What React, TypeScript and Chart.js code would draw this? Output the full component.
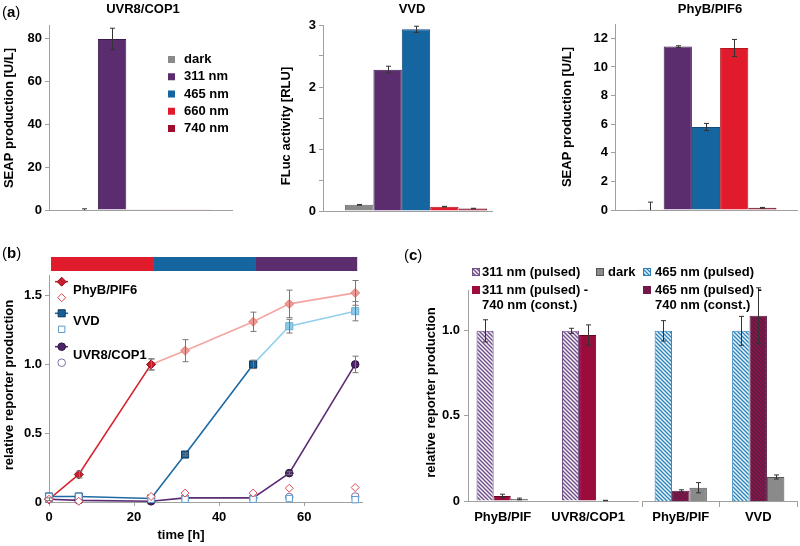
import React, { useEffect, useRef } from 'react';
import { Chart, registerables } from 'chart.js';
Chart.register(...registerables);

const FONT = "'Liberation Sans', Arial, Helvetica, sans-serif";
const AXIS = '#a0a0a0';
const TICKFONT = { family: FONT, size: 13, weight: 'bold' as const };

// ---------------- (a) ----------------
const aSeriesLabels = ['dark', '311 nm', '465 nm', '660 nm', '740 nm'];
const aFill = ['#8a8a8a', '#5b2d6f', '#1565a0', '#e01b2b', '#a00c2c'];
const aEdge = ['#6a6a6a', '#3d1a50', '#0e4a7a', '#b51420', '#6e0a1e'];

const uvrTitle = 'UVR8/COP1';
const uvrValues = [0.25, 80, 0.15, 0.12, 0.1];
const uvrErrors = [0.3, 5, 0, 0, 0];
const uvrTicks = [0, 20, 40, 60, 80];

const vvdTitle = 'VVD';
const vvdValues = [0.1, 2.28, 2.93, 0.07, 0.04];
const vvdErrors = [0.005, 0.055, 0.05, 0.005, 0.004];
const vvdTicks = [0, 0.5, 1, 1.5, 2, 2.5, 3];

const phyTitle = 'PhyB/PIF6';
const phyValues = [0.05, 11.42, 5.8, 11.32, 0.15];
const phyErrors = [0.5, 0.06, 0.25, 0.6, 0.03];
const phyTicks = [0, 2, 4, 6, 8, 10, 12];

// ---------------- (b) ----------------
const bTimes = [0, 7, 24, 32, 48, 56.5, 72];
const xTicksB = [0, 20, 40, 60];
const yTicksB = [0, 0.5, 1, 1.5];
const phaseTimes = [0, 24, 48, 72];
const phaseColors = ['#e01b2b', '#1565a0', '#5b2d6f'];

const phyOnTimes = [0, 7, 24];
const phyOnValues = [0.02, 0.2, 1.0];
const phyOnErr = [0.01, 0.025, 0.04];
const phyLateTimes = [24, 32, 48, 56.5, 72];
const phyLateValues = [1.0, 1.1, 1.31, 1.44, 1.52];
const phyLateErr = [0.04, 0.08, 0.07, 0.1, 0.09];
const phyDarkValues = [0.02, 0.005, 0.04, 0.065, 0.065, 0.1, 0.105];

const vvdOnTimes = [0, 7, 24, 32, 48];
const vvdOnValues = [0.04, 0.04, 0.025, 0.345, 1.0];
const vvdOnErr = [0, 0, 0, 0.01, 0.03];
const vvdLateTimes = [48, 56.5, 72];
const vvdLateValues = [1.0, 1.278, 1.387];
const vvdLateErr = [0.03, 0.05, 0.07];
const vvdDarkValues = [0.04, 0.04, 0.02, 0.02, 0.02, 0.025, 0.017];

const uvrOnValues = [0.02, 0.012, 0.005, 0.03, 0.03, 0.21, 1.0];
const uvrOnErr = [0, 0, 0, 0, 0, 0.01, 0.06];
const uvrDarkValues = [0.02, 0.03, 0.025, 0.03, 0.03, 0.036, 0.04];

// ---------------- (c) ----------------
const yTicksC = [0, 0.5, 1];
const cLeftCats = ['PhyB/PIF', 'UVR8/COP1'];
const c311Pulsed = [1.0, 1.0];
const c311PulsedErr = [0.065, 0.015];
const c311Pulsed740 = [0.03, 0.975];
const c311Pulsed740Err = [0.01, 0.06];
const cLeftDark = [0.012, 0.003];
const cLeftDarkErr = [0.005, 0.001];

const cRightCats = ['PhyB/PIF', 'VVD'];
const c465Pulsed = [1.0, 1.0];
const c465PulsedErr = [0.06, 0.085];
const c465Pulsed740 = [0.06, 1.088];
const c465Pulsed740Err = [0.006, 0.165];
const cRightDark = [0.078, 0.141];
const cRightDarkErr = [0.03, 0.012];

// ---------------- helpers ----------------
function onStep(v: number, step: number) {
  return Math.abs(v / step - Math.round(v / step)) < 1e-6;
}

const fixTicks = (vals: number[]) => (s: any) => {
  s.ticks = vals.map((v) => ({ value: v }));
};

function textPlugin(items: any[]) {
  return {
    id: 'texts',
    afterDraw(chart: any) {
      const ctx = chart.ctx as CanvasRenderingContext2D;
      ctx.save();
      ctx.fillStyle = '#000';
      ctx.textBaseline = 'middle';
      for (const it of items) {
        ctx.font = `${it.weight ?? 'bold'} ${it.size ?? 13}px ${FONT}`;
        ctx.textAlign = it.align ?? 'center';
        if (it.rot) {
          ctx.save();
          ctx.translate(it.x, it.y);
          ctx.rotate(-Math.PI / 2);
          ctx.fillText(it.text, 0, 0);
          ctx.restore();
        } else ctx.fillText(it.text, it.x, it.y);
      }
      ctx.restore();
    },
  };
}

function boxLegendPlugin(items: any[]) {
  return {
    id: 'boxLegend',
    afterDraw(chart: any) {
      const ctx = chart.ctx as CanvasRenderingContext2D;
      ctx.save();
      ctx.textBaseline = 'middle';
      ctx.textAlign = 'left';
      ctx.font = `bold 13px ${FONT}`;
      for (const it of items) {
        const b = it.box ?? 7;
        ctx.fillStyle = it.fill;
        ctx.fillRect(it.x, it.y - b / 2, b, b);
        if (it.stroke) {
          ctx.strokeStyle = it.stroke;
          ctx.lineWidth = 1;
          ctx.strokeRect(it.x + 0.5, it.y - b / 2 + 0.5, b - 1, b - 1);
        }
        ctx.fillStyle = '#000';
        const lines: string[] = it.lines;
        lines.forEach((ln, k) => ctx.fillText(ln, it.tx, it.y + k * (it.lineStep ?? 15)));
      }
      ctx.restore();
    },
  };
}

function errorBarPlugin(color: string, cap: number) {
  return {
    id: 'errbars',
    afterDatasetsDraw(chart: any) {
      const ctx = chart.ctx as CanvasRenderingContext2D;
      chart.data.datasets.forEach((ds: any, di: number) => {
        const errs = ds.errors;
        if (!errs) return;
        const meta = chart.getDatasetMeta(di);
        const ys = chart.scales[meta.yAxisID];
        ctx.save();
        ctx.strokeStyle = color;
        ctx.lineWidth = 1;
        meta.data.forEach((el: any, i: number) => {
          const e = errs[i];
          if (!e) return;
          const raw = ds.data[i];
          const v = typeof raw === 'number' ? raw : raw && raw.y;
          if (v == null) return;
          const x = Math.round(el.x) + 0.5;
          const y1 = ys.getPixelForValue(v + e);
          const lowClipped = v - e < ys.min;
          const y2 = ys.getPixelForValue(Math.max(v - e, ys.min));
          ctx.beginPath();
          ctx.moveTo(x, y1);
          ctx.lineTo(x, y2);
          ctx.moveTo(x - cap, y1);
          ctx.lineTo(x + cap, y1);
          if (!lowClipped) {
            ctx.moveTo(x - cap, y2);
            ctx.lineTo(x + cap, y2);
          }
          ctx.stroke();
        });
        ctx.restore();
      });
    },
  };
}

function makeHatch(bg: string, fg: string) {
  const size = 4;
  const c = document.createElement('canvas');
  c.width = size;
  c.height = size;
  const g = c.getContext('2d')!;
  g.fillStyle = bg;
  g.fillRect(0, 0, size, size);
  g.strokeStyle = fg;
  g.lineWidth = 1.3;
  g.beginPath();
  g.moveTo(-1, -1);
  g.lineTo(size + 1, size + 1);
  g.moveTo(-1, size - 1);
  g.lineTo(1, size + 1);
  g.moveTo(size - 1, -1);
  g.lineTo(size + 1, 1);
  g.stroke();
  return g.createPattern(c, 'repeat')!;
}

function drawMarker(ctx: CanvasRenderingContext2D, style: string, x: number, y: number, r: number, fill: string, stroke: string) {
  ctx.beginPath();
  if (style === 'rectRot') {
    ctx.moveTo(x, y - r);
    ctx.lineTo(x + r, y);
    ctx.lineTo(x, y + r);
    ctx.lineTo(x - r, y);
    ctx.closePath();
  } else if (style === 'rect') {
    const s = r * Math.SQRT1_2;
    ctx.rect(x - s, y - s, 2 * s, 2 * s);
  } else ctx.arc(x, y, r, 0, Math.PI * 2);
  ctx.fillStyle = fill;
  ctx.fill();
  ctx.strokeStyle = stroke;
  ctx.lineWidth = 1;
  ctx.stroke();
}

function yGrid() {
  return { display: true, drawOnChartArea: false, drawTicks: true, tickLength: 4, color: AXIS };
}

function panelA(values: number[], errors: number[], cfg: any) {
  const plugins: any[] = [errorBarPlugin('#333', 2.5), textPlugin(cfg.texts)];
  if (cfg.legend) plugins.push(boxLegendPlugin(cfg.legend));
  if (cfg.axisLen) {
    plugins.push({
      id: 'baseLine',
      afterDraw(chart: any) {
        const { left, bottom } = chart.chartArea;
        const ctx = chart.ctx;
        ctx.save();
        ctx.strokeStyle = AXIS;
        ctx.lineWidth = 1;
        ctx.beginPath();
        ctx.moveTo(left, Math.round(bottom) + 0.5);
        ctx.lineTo(left + cfg.axisLen, Math.round(bottom) + 0.5);
        ctx.stroke();
        ctx.restore();
      },
    });
  }
  return {
    type: 'bar',
    data: {
      labels: [''],
      datasets: aSeriesLabels.map((lab, i) => ({
        label: lab,
        data: [values[i]],
        errors: [errors[i]],
        backgroundColor: aFill[i],
        borderColor: aEdge[i],
        borderWidth: 1,
        categoryPercentage: cfg.catPct,
        barPercentage: 1,
      })),
    },
    options: {
      animation: false,
      responsive: false,
      layout: { padding: { top: cfg.padTop, right: cfg.padRight, left: 0, bottom: 0 } },
      plugins: { legend: { display: false }, tooltip: { enabled: false } },
      scales: {
        x: {
          ticks: { display: false },
          grid: { display: false },
          border: { display: !cfg.axisLen, color: AXIS },
          afterFit: (s: any) => {
            s.height = cfg.xHeight;
          },
        },
        y: {
          min: 0,
          max: cfg.max,
          ticks: {
            color: '#000',
            font: TICKFONT,
            padding: 3,
            callback: (v: any) => (onStep(v, cfg.labelStep) ? String(v) : ''),
          },
          grid: yGrid(),
          border: { color: AXIS },
          afterBuildTicks: fixTicks(cfg.ticks),
          afterFit: (s: any) => {
            s.width = cfg.yWidth;
          },
        },
      },
    },
    plugins,
  };
}

const pts = (ts: number[], vs: number[]) => ts.map((t, i) => ({ x: t, y: vs[i] }));

export default function App() {
  const a1 = useRef<HTMLCanvasElement>(null);
  const a2 = useRef<HTMLCanvasElement>(null);
  const a3 = useRef<HTMLCanvasElement>(null);
  const b = useRef<HTMLCanvasElement>(null);
  const c1 = useRef<HTMLCanvasElement>(null);
  const c2 = useRef<HTMLCanvasElement>(null);

  useEffect(() => {
    const charts: Chart[] = [];

    // (a) UVR8/COP1
    charts.push(
      new Chart(
        a1.current!,
        panelA(uvrValues, uvrErrors, {
          max: 86.5,
          ticks: uvrTicks,
          labelStep: 20,
          yWidth: 49,
          xHeight: 20,
          padTop: 25,
          padRight: 18,
          catPct: 0.776,
          texts: [
            { text: uvrTitle, x: 143, y: 9.5 },
            { text: 'SEAP production [U/L]', x: 9, y: 118, rot: true },
          ],
          legend: aSeriesLabels.map((lab, i) => ({
            lines: [lab],
            fill: aFill[i],
            x: 168,
            tx: 184,
            y: 59.5 + i * 17.25,
          })),
        }) as any
      )
    );

    // (a) VVD
    charts.push(
      new Chart(
        a2.current!,
        panelA(vvdValues, vvdErrors, {
          max: 3,
          ticks: vvdTicks,
          labelStep: 1,
          yWidth: 47,
          xHeight: 19,
          padTop: 25,
          padRight: 3,
          catPct: 0.763,
          axisLen: 170,
          texts: [
            { text: vvdTitle, x: 136, y: 9.5 },
            { text: 'FLuc activity [RLU]', x: 10, y: 126, rot: true },
          ],
        }) as any
      )
    );

    // (a) PhyB/PIF6
    charts.push(
      new Chart(
        a3.current!,
        panelA(phyValues, phyErrors, {
          max: 13,
          ticks: phyTicks,
          labelStep: 2,
          yWidth: 57,
          xHeight: 20,
          padTop: 24,
          padRight: 3,
          catPct: 0.775,
          texts: [
            { text: phyTitle, x: 152, y: 9.5 },
            { text: 'SEAP production [U/L]', x: 9, y: 117, rot: true },
          ],
        }) as any
      )
    );

    // (b)
    const lineDs = (label: string, data: any[], style: string, r: number, line: string, fill: string, edge: string, errors?: number[]) => ({
      label,
      data,
      errors,
      borderColor: line,
      borderWidth: 1.6,
      pointStyle: style,
      pointRadius: r,
      pointBackgroundColor: fill,
      pointBorderColor: edge,
      pointBorderWidth: 1,
      tension: 0,
      clip: false,
    });
    const openDs = (label: string, data: any[], style: string, r: number, edge: string) => ({
      label,
      data,
      showLine: false,
      pointStyle: style,
      pointRadius: r,
      pointBackgroundColor: '#ffffff',
      pointBorderColor: edge,
      pointBorderWidth: 1,
      clip: false,
    });

    const legendB = {
      id: 'legendB',
      afterDraw(chart: any) {
        const ctx = chart.ctx as CanvasRenderingContext2D;
        const rows = [
          { text: 'PhyB/PIF6', style: 'rectRot', r: 4.5, ro: 4, line: '#d8212f', fill: '#c81f2e', edge: '#8e1420', open: '#e5484f', y: 41.7 },
          { text: 'VVD', style: 'rect', r: 5, ro: 4.5, line: '#1e6aa3', fill: '#1b5e96', edge: '#0d3a60', open: '#5a9bd0', y: 73.3 },
          { text: 'UVR8/COP1', style: 'circle', r: 3.8, ro: 3.8, line: '#5a2d72', fill: '#4a2466', edge: '#2e1240', open: '#8070a8', y: 106.7 },
        ];
        ctx.save();
        for (const rw of rows) {
          ctx.strokeStyle = rw.line;
          ctx.lineWidth = 1.6;
          ctx.beginPath();
          ctx.moveTo(55, rw.y);
          ctx.lineTo(68, rw.y);
          ctx.stroke();
          drawMarker(ctx, rw.style, 61.7, rw.y, rw.r, rw.fill, rw.edge);
          drawMarker(ctx, rw.style, 61.7, rw.y + 16, rw.ro, '#ffffff', rw.open);
          ctx.fillStyle = '#000';
          ctx.font = `bold 13px ${FONT}`;
          ctx.textAlign = 'left';
          ctx.textBaseline = 'middle';
          ctx.fillText(rw.text, 73, rw.y + 8.5);
        }
        ctx.restore();
      },
    };

    const stripB = {
      id: 'stripB',
      afterDraw(chart: any) {
        const ctx = chart.ctx as CanvasRenderingContext2D;
        const xs = chart.scales.x;
        const top = chart.chartArea.top;
        ctx.save();
        for (let i = 0; i < phaseColors.length; i++) {
          const x0 = xs.getPixelForValue(phaseTimes[i]);
          const x1 = xs.getPixelForValue(phaseTimes[i + 1]);
          ctx.fillStyle = phaseColors[i];
          ctx.fillRect(x0 + 2, top - 18, x1 - x0, 14);
        }
        ctx.restore();
      },
    };

    charts.push(
      new Chart(b.current!, {
        type: 'line',
        data: {
          datasets: [
            openDs('PhyB/PIF6 dark', pts(bTimes, phyDarkValues), 'rectRot', 4, '#e5484f'),
            openDs('VVD dark', pts(bTimes, vvdDarkValues), 'rect', 4.5, '#5a9bd0'),
            openDs('UVR8/COP1 dark', pts(bTimes, uvrDarkValues), 'circle', 3.8, '#8070a8'),
            lineDs('PhyB/PIF6', pts(phyOnTimes, phyOnValues), 'rectRot', 4.5, '#d8212f', '#c81f2e', '#8e1420', phyOnErr),
            lineDs('PhyB/PIF6 late', pts(phyLateTimes, phyLateValues), 'rectRot', 4.5, '#f4a5a0', '#ee9a94', '#e0857f', phyLateErr),
            lineDs('VVD', pts(vvdOnTimes, vvdOnValues), 'rect', 5, '#1e6aa3', '#1b5e96', '#0d3a60', vvdOnErr),
            lineDs('VVD late', pts(vvdLateTimes, vvdLateValues), 'rect', 5, '#92d0ec', '#8ecbe9', '#6db0d4', vvdLateErr),
            lineDs('UVR8/COP1', pts(bTimes, uvrOnValues), 'circle', 3.8, '#5a2d72', '#4a2466', '#2e1240', uvrOnErr),
          ] as any,
        },
        options: {
          animation: false,
          responsive: false,
          layout: { padding: { top: 35, right: 38, left: 0, bottom: 0 } },
          plugins: { legend: { display: false }, tooltip: { enabled: false } },
          scales: {
            x: {
              type: 'linear',
              min: 0,
              max: 73.6,
              ticks: { color: '#000', font: TICKFONT, padding: 4 },
              grid: { display: true, drawOnChartArea: false, drawTicks: true, tickLength: 4, color: AXIS },
              border: { color: AXIS },
              afterBuildTicks: fixTicks(xTicksB),
              afterFit: (s: any) => {
                s.height = 44;
              },
            },
            y: {
              min: 0,
              max: 1.65,
              ticks: {
                color: '#000',
                font: TICKFONT,
                padding: 3,
                callback: (v: any) => (v === 0 ? '0' : Number(v).toFixed(1)),
              },
              grid: yGrid(),
              border: { color: AXIS },
              afterBuildTicks: fixTicks(yTicksB),
              afterFit: (s: any) => {
                s.width = 49;
              },
            },
          },
        } as any,
        plugins: [
          errorBarPlugin('#777', 3),
          legendB,
          stripB,
          textPlugin([
            { text: 'time [h]', x: 181, y: 295 },
            { text: 'relative reporter production', x: 9, y: 145, rot: true },
          ]),
        ] as any,
      })
    );

    // (c)
    const purpleHatch = makeHatch('#f4eff6', '#6d4c87');
    const blueHatch = makeHatch('#e9f5fb', '#2c82b9');
    const maroonHatch = makeHatch('#8c1646', '#5a1c48');
    const maroon = '#9b0b3b';
    const grayC = '#8a8a8a';

    const cYTicks = {
      color: '#000',
      font: TICKFONT,
      padding: 4,
      callback: (v: any) => (v === 0 ? '0' : Number(v).toFixed(1)),
    };

    charts.push(
      new Chart(c1.current!, {
        type: 'bar',
        data: {
          labels: cLeftCats,
          datasets: [
            { label: '311 nm (pulsed)', data: c311Pulsed, errors: c311PulsedErr, backgroundColor: purpleHatch, borderColor: '#6d4c87', borderWidth: 1 },
            { label: '311 nm (pulsed) - 740 nm (const.)', data: c311Pulsed740, errors: c311Pulsed740Err, backgroundColor: maroon, borderColor: '#6a0526', borderWidth: 1 },
            { label: 'dark', data: cLeftDark, errors: cLeftDarkErr, backgroundColor: grayC, borderColor: '#555', borderWidth: 1 },
            { label: '', data: [null, null] },
          ] as any,
        },
        options: {
          animation: false,
          responsive: false,
          layout: { padding: { top: 50, right: 0, left: 0, bottom: 0 } },
          plugins: { legend: { display: false }, tooltip: { enabled: false } },
          datasets: { bar: { categoryPercentage: 0.8, barPercentage: 1 } },
          scales: {
            x: {
              ticks: { color: '#000', font: TICKFONT, padding: 9, labelOffset: -8 },
              grid: { display: false, drawTicks: false },
              border: { color: AXIS },
              afterFit: (s: any) => {
                s.height = 45;
              },
            },
            y: {
              min: 0,
              max: 1.24,
              ticks: cYTicks,
              grid: yGrid(),
              border: { color: AXIS },
              afterBuildTicks: fixTicks(yTicksC),
              afterFit: (s: any) => {
                s.width = 68;
              },
            },
          },
        } as any,
        plugins: [
          errorBarPlugin('#333', 2.5),
          textPlugin([{ text: 'relative reporter production', x: 31, y: 152.5, rot: true }]),
          boxLegendPlugin([
            { lines: ['311 nm (pulsed)'], fill: purpleHatch, stroke: '#6d4c87', box: 8, x: 72, tx: 82, y: 32 },
            { lines: ['311 nm (pulsed) -', '740 nm (const.)'], fill: maroon, box: 8, x: 72, tx: 82, y: 50 },
            { lines: ['dark'], fill: grayC, stroke: '#555', box: 8, x: 196, tx: 208, y: 32 },
          ]),
        ] as any,
      })
    );

    charts.push(
      new Chart(c2.current!, {
        type: 'bar',
        data: {
          labels: cRightCats,
          datasets: [
            { label: '465 nm (pulsed)', data: c465Pulsed, errors: c465PulsedErr, backgroundColor: blueHatch, borderColor: '#2c82b9', borderWidth: 1 },
            { label: '465 nm (pulsed) - 740 nm (const.)', data: c465Pulsed740, errors: c465Pulsed740Err, backgroundColor: maroonHatch, borderColor: '#5a1c48', borderWidth: 1 },
            { label: 'dark', data: cRightDark, errors: cRightDarkErr, backgroundColor: grayC, borderColor: '#555', borderWidth: 1 },
          ] as any,
        },
        options: {
          animation: false,
          responsive: false,
          layout: { padding: { top: 50, right: 3, left: 0, bottom: 0 } },
          plugins: { legend: { display: false }, tooltip: { enabled: false } },
          datasets: { bar: { categoryPercentage: 0.674, barPercentage: 1 } },
          scales: {
            x: {
              ticks: { color: '#000', font: TICKFONT, padding: 3 },
              grid: { display: true, drawOnChartArea: false, drawTicks: true, tickLength: 6, color: AXIS, offset: true },
              border: { color: AXIS },
              afterFit: (s: any) => {
                s.height = 45;
              },
            },
            y: { display: false, min: 0, max: 1.24 },
          },
        } as any,
        plugins: [
          errorBarPlugin('#333', 2.5),
          boxLegendPlugin([
            { lines: ['465 nm (pulsed)'], fill: blueHatch, stroke: '#2c82b9', box: 8, x: 1, tx: 13, y: 32 },
            { lines: ['465 nm (pulsed) -', '740 nm (const.)'], fill: maroonHatch, box: 8, x: 1, tx: 13, y: 50 },
          ]),
        ] as any,
      })
    );

    return () => charts.forEach((c) => c.destroy());
  }, []);

  const cv = (left: number, top: number): React.CSSProperties => ({ position: 'absolute', left, top });
  const lab = (left: number, top: number): React.CSSProperties => ({
    position: 'absolute',
    left,
    top,
    fontFamily: FONT,
    fontSize: 15,
    lineHeight: '17px',
    color: '#000',
  });

  return (
    <div style={{ position: 'absolute', left: 0, top: 0, width: 800, height: 546, background: '#fff', overflow: 'hidden' }}>
      <canvas ref={a1} width={250} height={230} style={cv(0, 0)} />
      <canvas ref={a2} width={236} height={230} style={cv(276, 0)} />
      <canvas ref={a3} width={242} height={230} style={cv(558, 0)} />
      <canvas ref={b} width={400} height={306} style={cv(0, 240)} />
      <canvas ref={c1} width={242} height={306} style={cv(400, 240)} />
      <canvas ref={c2} width={158} height={306} style={cv(642, 240)} />
      <div style={lab(2, 2.5)}>
        (<b>a</b>)
      </div>
      <div style={lab(2, 243.5)}>
        (<b>b</b>)
      </div>
      <div style={lab(404, 245.5)}>
        (<b>c</b>)
      </div>
    </div>
  );
}
